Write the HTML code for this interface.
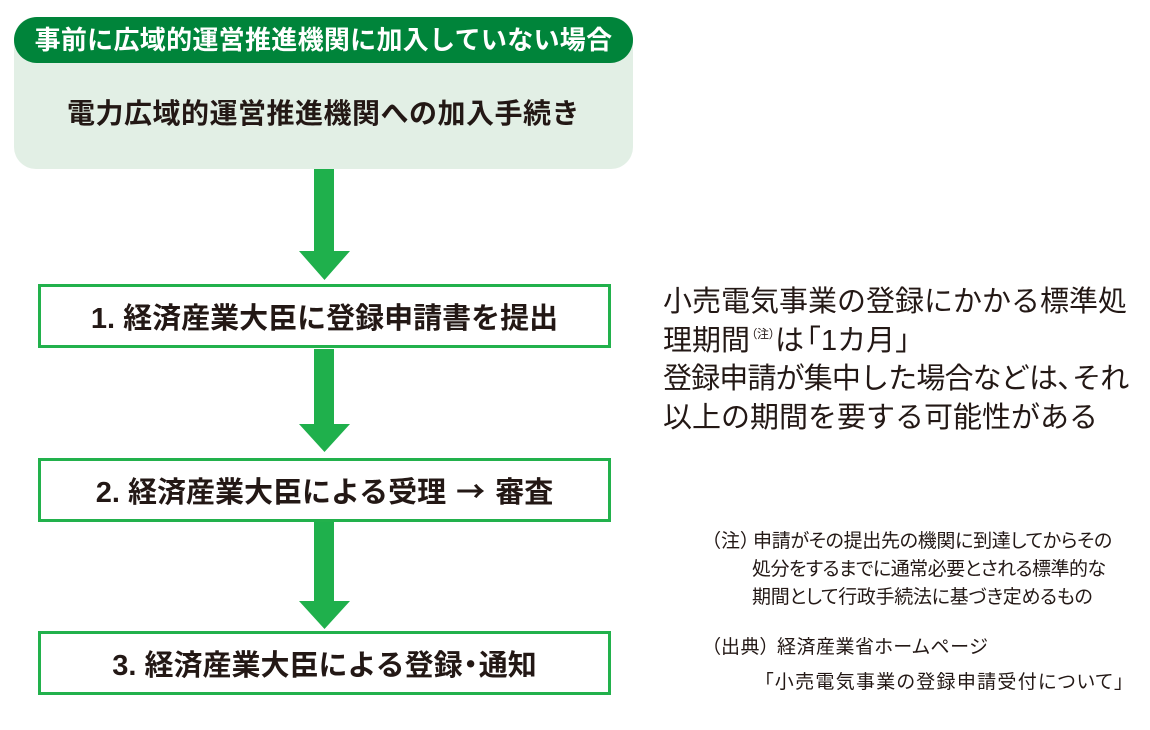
<!DOCTYPE html>
<html><head><meta charset="utf-8">
<style>
html,body{margin:0;padding:0;background:#fff;}
body{width:1150px;height:730px;position:relative;overflow:hidden;font-family:"Liberation Sans","Noto Sans CJK JP",sans-serif;color:#231815;}
.abs{position:absolute;white-space:nowrap;}
.topbox{position:absolute;left:14px;top:17px;width:619px;height:152px;background:#e2efe5;border-radius:22px;}
.hdr{position:absolute;left:14px;top:17px;width:619px;height:46px;background:#00843a;border-radius:23px;color:#fff;font-weight:700;font-size:26px;line-height:46px;text-align:center;letter-spacing:0.3px;}
.sub{position:absolute;left:14px;top:94px;width:619px;height:40px;line-height:40px;text-align:center;font-size:28px;font-weight:700;letter-spacing:0.5px;}
.box{position:absolute;left:38px;width:567px;height:58px;border:3px solid #22b14c;display:flex;align-items:center;justify-content:center;font-size:29px;font-weight:700;white-space:nowrap;}
.rt{font-size:29px;line-height:38.5px;}
.nt{font-size:19px;line-height:28px;letter-spacing:0.5px;font-family:"Noto Sans CJK JP",sans-serif;font-feature-settings:"palt";}
.cj{font-family:"Noto Sans CJK JP",sans-serif;}
</style></head><body>
<div class="topbox"></div>
<div class="hdr">事前に広域的運営推進機関に加入していない場合</div>
<div class="sub">電力広域的運営推進機関への加入手続き</div>

<svg class="abs" style="left:0;top:0" width="1150" height="730">
<polygon fill="#1fb04c" points="314,169 334,169 334,251 350,251 324.5,280 299,251 314,251"/>
<polygon fill="#1fb04c" points="314,349 334,349 334,424 350,424 324.5,452 299,424 314,424"/>
<polygon fill="#1fb04c" points="314,522 334,522 334,601 350,601 324.5,629 299,601 314,601"/>
</svg>

<div class="box" style="top:284px;">1. 経済産業大臣に登録申請書を提出</div>
<div class="box" style="top:458px;">2. 経済産業大臣による受理<span class="cj" style="margin:0 10px;">→</span>審査</div>
<div class="box" style="top:631px;">3. 経済産業大臣による登録<span style="margin:0 -6.5px;">・</span>通知</div>

<div class="abs rt" style="left:663px;top:283px;">小売電気事業の登録にかかる標準処</div>
<div class="abs rt" style="left:663px;top:321.5px;">理期間<span class="cj" style="font-size:12px;position:relative;top:-12px;margin-left:1px;font-feature-settings:'palt';">（注）</span>は<span style="margin-left:-12px;">「1カ月」</span></div>
<div class="abs rt" style="left:663px;top:360px;letter-spacing:-0.85px;">登録申請が集中した場合などは<span style="letter-spacing:-14px;">、</span>それ</div>
<div class="abs rt" style="left:663px;top:398.5px;">以上の期間を要する可能性がある</div>

<div class="abs nt" style="left:711px;top:526px;"><span style="display:inline-block;width:42px;">（注）</span><span style="letter-spacing:-0.3px;">申請がその提出先の機関に到達してからその</span></div>
<div class="abs nt" style="left:752px;top:554px;letter-spacing:-0.55px;">処分をするまでに通常必要とされる標準的な</div>
<div class="abs nt" style="left:752px;top:582px;letter-spacing:-0.3px;">期間として行政手続法に基づき定めるもの</div>
<div class="abs nt" style="left:711px;top:632px;"><span style="display:inline-block;width:66px;">（出典）</span>経済産業省ホームページ</div>
<div class="abs nt" style="left:764px;top:667px;letter-spacing:1.3px;">「小売電気事業の登録申請受付について」</div>
</body></html>
